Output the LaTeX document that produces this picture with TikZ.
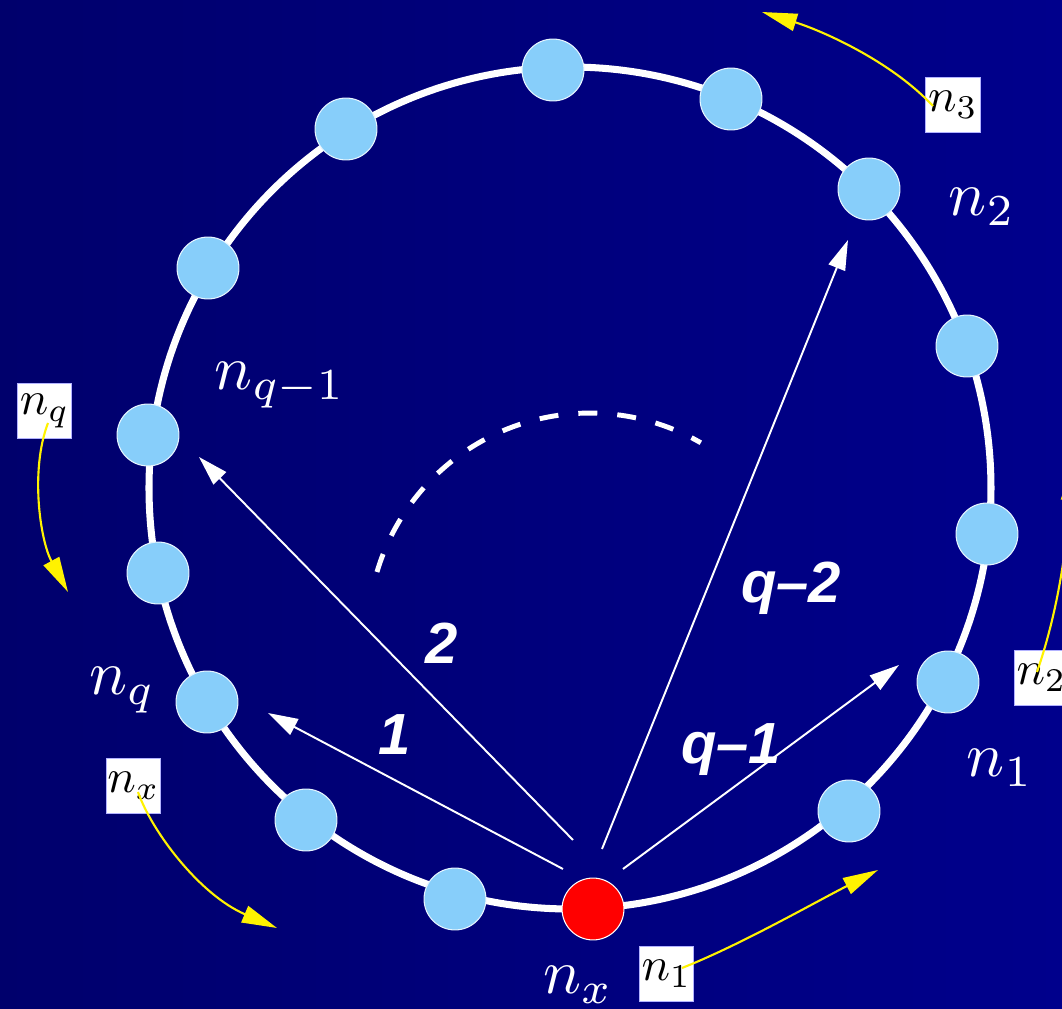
\documentclass[tikz,border=0pt]{standalone}
\usepackage{graphicx}
\usepackage{fontspec}
\newfontfamily\lblfont{Liberation Sans}
\usetikzlibrary{arrows.meta}
\definecolor{bgL}{RGB}{0,0,108}
\definecolor{bgR}{RGB}{0,0,140}
\definecolor{nodeblue}{RGB}{135,206,250}
\newcommand{\sitename}[1]{\scalebox{1.8}{$#1$}}
\newcommand{\tagname}[1]{\raisebox{-2pt}{\scalebox{1.35}{$#1$}}}
\begin{document}
\begin{tikzpicture}[x=0.01cm,y=-0.01cm,
  sitenode/.style={circle, fill=nodeblue, draw=white!80!nodeblue, line width=0.3pt, minimum size=17.6pt, inner sep=0pt},
  srcnode/.style={sitenode, fill=red, draw=white},
  ringline/.style={white, line width=2pt},
  hopline/.style={white, line width=0.55pt, -{Triangle[length=8.5pt,width=5pt]}},
  hoplbl/.style={text=white, font=\lblfont\bfseries\itshape\fontsize{16.5}{18}\selectfont},
  sitelbl/.style={text=white, inner sep=0pt},
  tagbox/.style={fill=white, draw=white!70!blue, line width=0.3pt, minimum size=15.6pt, inner sep=0pt, text=black},
  moveline/.style={yellow, line width=0.6pt, -{Triangle[length=10pt,width=5pt]}},
]
\useasboundingbox (0,0) rectangle (1062,1009);
\clip (0,0) rectangle (1062,1009);
\shade[left color=bgL, right color=bgR] (0,0) rectangle (1062,1009);

% ring
\draw[ringline] (570,488) circle[radius=421];

% dashed arc
\draw[white, line width=1.4pt, dash pattern=on 5.4pt off 5.7pt] (377,572) arc[start angle=-163.5, end angle=-60, radius=222];

% sites
\node[sitenode] (p1) at (553,70) {};
\node[sitenode] (p2) at (731,99) {};
\node[sitenode] (p3) at (869,189) {};
\node[sitenode] (p4) at (967,346) {};
\node[sitenode] (p5) at (987,534) {};
\node[sitenode] (p6) at (948,682) {};
\node[sitenode] (p7) at (849,811) {};
\node[srcnode]  (px) at (593,909) {};
\node[sitenode] (p9) at (455,899) {};
\node[sitenode] (p10) at (306,820) {};
\node[sitenode] (p11) at (207,702) {};
\node[sitenode] (p12) at (158,573) {};
\node[sitenode] (p13) at (148,435) {};
\node[sitenode] (p14) at (208,268) {};
\node[sitenode] (p15) at (346,129) {};

% arrow end points
\coordinate (s1) at (563,869);
\coordinate (t1) at (268,713);
\coordinate (s2) at (573,840);
\coordinate (t2) at (199,457);
\coordinate (s3) at (602,849);
\coordinate (t3) at (848,240);
\coordinate (s4) at (623,869);
\coordinate (t4) at (899,665);
\draw[hopline] (s1) -- (t1);
\draw[hopline] (s2) -- (t2);
\draw[hopline] (s3) -- (t3);
\draw[hopline] (s4) -- (t4);

% hop labels
\node[hoplbl] (l1) at (395,735) {1};
\node[hoplbl] (l2) at (442,643) {2};
\node[hoplbl] (l3) at (791,588) {q\textendash 2};
\node[hoplbl] (l4) at (731,750) {q\textendash 1};

% site names
\node[sitelbl] (nn2) at (982,207) {\sitename{n_2}};
\node[sitelbl] (nnq1) at (280,385) {\sitename{n_{q-1}}};
\node[sitelbl] (nnq) at (122,690) {\sitename{n_q}};
\node[sitelbl] (nn1) at (1000,768) {\sitename{n_1}};
\node[sitelbl] (nnx) at (578,985) {\sitename{n_x}};

% boxed tags
\node[tagbox] (b3) at (953,105) {\tagname{n_3}};
\node[tagbox] (bq) at (44.5,411) {\tagname{n_q}};
\node[tagbox] (b2) at (1041.5,678) {\tagname{n_2}};
\node[tagbox] (bx) at (133.5,786) {\tagname{n_x}};
\node[tagbox] (b1) at (666.5,974) {\tagname{n_1}};

% yellow moves
\coordinate (m3s) at (933,106);
\coordinate (m3t) at (762,12);
\draw[moveline] (m3s) .. controls (890,60) and (820,30) .. (m3t);
\coordinate (mqs) at (48,423);
\coordinate (mqt) at (68,592);
\draw[moveline] (mqs) .. controls (30,470) and (40,540) .. (mqt);
\coordinate (m2s) at (1037,672);
\coordinate (m2t) at (1072,465);
\draw[moveline] (m2s) .. controls (1055,620) and (1066,560) .. (m2t);
\coordinate (mxs) at (138,792);
\coordinate (mxt) at (277,928);
\draw[moveline] (mxs) .. controls (152,832) and (200,895) .. (mxt);
\coordinate (m1s) at (682,968);
\coordinate (m1t) at (878,870);
\draw[moveline] (m1s) .. controls (740,945) and (810,905) .. (m1t);
\end{tikzpicture}
\end{document}
